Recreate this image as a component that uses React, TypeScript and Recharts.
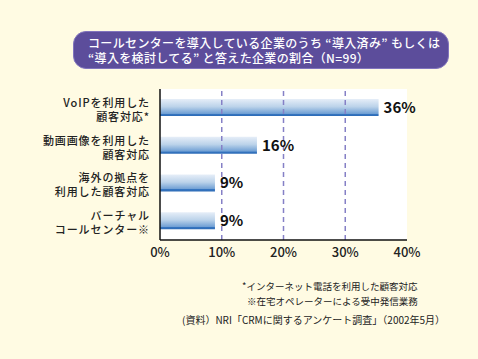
import React from 'react';
import { BarChart, Bar, XAxis, YAxis, CartesianGrid, ReferenceLine, LabelList } from 'recharts';

const categories = [
  'VoIPを利用した\n顧客対応*',
  '動画画像を利用した\n顧客対応',
  '海外の拠点を\n利用した顧客対応',
  'バーチャル\nコールセンター※',
];
const values = [35.4, 15.7, 8.9, 8.9];
const valueLabels = ['36%', '16%', '9%', '9%'];
const xTicks = [0, 10, 20, 30, 40];
const gridLines = [10, 20, 30];

const titleLines = [
  'コールセンターを導入している企業のうち “導入済み” もしくは',
  '“導入を検討してる” と答えた企業の割合（N=99）',
];
const notes = ['*インターネット電話を利用した顧客対応', '※在宅オペレーターによる受中発信業務'];
const source = '(資料）NRI「CRMに関するアンケート調査」（2002年5月）';

const data = categories.map((name, i) => ({ name, value: values[i], label: valueLabels[i] }));

const FONT = '"Noto Sans CJK JP", "Noto Sans", sans-serif';

// two-line category label, drawn as html so the lines can sit close together
const CategoryTick = ({ x, y, payload }: any) => {
  const lines = String(payload.value).split('\n');
  return (
    <foreignObject x={x - 158} y={y - 13} width={156} height={30}>
      <div
        style={{
          textAlign: 'right',
          fontSize: 11,
          letterSpacing: 0.9,
          lineHeight: '14px',
          fontWeight: 500,
          color: '#222',
          fontFamily: FONT,
          whiteSpace: 'nowrap',
        }}
      >
        {lines.map((l, i) => (
          <div key={i}>{l}</div>
        ))}
      </div>
    </foreignObject>
  );
};

const App: React.FC = () => {
  return (
    <div
      style={{
        position: 'absolute',
        left: 0,
        top: 0,
        width: 478,
        height: 359,
        background: '#fffbe3',
        fontFamily: FONT,
        overflow: 'hidden',
      }}
    >
      <div
        style={{
          position: 'absolute',
          left: 73,
          top: 31,
          width: 376,
          height: 38,
          background: '#5c4d9b',
          border: '1px solid #8174bd',
          borderRadius: 13,
          color: '#fff',
          fontSize: 12,
          letterSpacing: 0.35,
          fontWeight: 500,
          lineHeight: '14.5px',
          padding: '4px 0 0 14px',
          boxSizing: 'border-box',
          whiteSpace: 'nowrap',
        }}
      >
        {titleLines.map((t, i) => (
          <div key={i}>{t}</div>
        ))}
      </div>

      <div style={{ position: 'absolute', left: 0, top: 0 }}>
        <BarChart
          width={478}
          height={359}
          data={data}
          layout="vertical"
          margin={{ top: 89, right: 71, left: 0, bottom: 99 }}
          barCategoryGap={0}
        >
          <defs>
            <linearGradient id="barFill" x1="0" y1="0" x2="0" y2="1">
              <stop offset="0%" stopColor="#e6eef8" />
              <stop offset="45%" stopColor="#bcd3ea" />
              <stop offset="86%" stopColor="#6f9fd4" />
              <stop offset="88%" stopColor="#3675c0" />
              <stop offset="100%" stopColor="#2d6bb6" />
            </linearGradient>
          </defs>
          <CartesianGrid horizontal={false} vertical={false} fill="#ffffff" />
          {gridLines.map((g) => (
            <ReferenceLine key={g} x={g} stroke="#8580c6" strokeWidth={1.5} strokeDasharray="5 4" />
          ))}
          <XAxis
            type="number"
            domain={[0, 40]}
            ticks={xTicks}
            tickFormatter={(v) => `${v}%`}
            axisLine={{ stroke: '#111', strokeWidth: 1.5 }}
            tickLine={false}
            height={20}
            tick={{ fill: '#222', fontSize: 13, fontWeight: 500, fontFamily: FONT }}
            tickMargin={2}
          />
          <YAxis
            type="category"
            dataKey="name"
            width={160}
            interval={0}
            axisLine={{ stroke: '#111', strokeWidth: 1.5 }}
            tickLine={false}
            tick={<CategoryTick />}
          />
          <Bar dataKey="value" fill="url(#barFill)" barSize={17} isAnimationActive={false}>
            <LabelList
              dataKey="label"
              position="right"
              offset={5}
              style={{ fill: '#111', fontSize: 15, fontWeight: 700, fontFamily: FONT }}
            />
          </Bar>
        </BarChart>
      </div>

      <div style={{ position: 'absolute', left: 242, top: 279, fontSize: 9.5, lineHeight: '15px', color: '#222', whiteSpace: 'nowrap' }}>
        <div>{notes[0]}</div>
        <div style={{ paddingLeft: 5 }}>{notes[1]}</div>
      </div>
      <div style={{ position: 'absolute', left: 182, top: 312, fontSize: 10, color: '#222', whiteSpace: 'nowrap' }}>
        {source}
      </div>
    </div>
  );
};

export default App;
